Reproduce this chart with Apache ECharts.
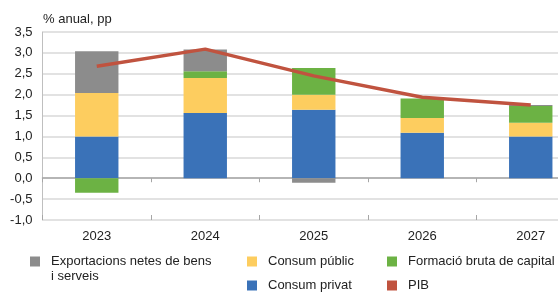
<!DOCTYPE html>
<html>
<head>
<meta charset="utf-8">
<script src="https://cdn.jsdelivr.net/npm/echarts@6/dist/echarts.min.js"></script>
<style>
html, body { margin: 0; padding: 0; background: #fff; }
#chart { width: 558px; height: 293px; }
</style>
</head>
<body>
<div id="chart"></div>
<script>
// dades del gràfic
var anys = ['2023', '2024', '2025', '2026', '2027'];
var consumPrivat = [1.0, 1.56, 1.64, 1.09, 1.0];
var consumPublic = [1.04, 0.84, 0.36, 0.35, 0.33];
var formacioCapital = [-0.35, 0.16, 0.64, 0.47, 0.40];
var exportacionsNetes = [1.0, 0.52, -0.11, 0.0, 0.02];
var pib = [2.68, 3.09, 2.45, 1.94, 1.75];
var ticksY = [-1.0, 3.5, 0.5];

var FONT = '"Liberation Sans", Arial, sans-serif';
var NOM_EXP = 'Exportacions netes de bens i serveis';
var chart = echarts.init(document.getElementById('chart'));

function barra(nom, dades, color) {
	return {
		name: nom,
		type: 'bar',
		stack: 'total',
		barWidth: '40%',
		data: dades,
		itemStyle: { color: color },
		emphasis: { disabled: true }
	};
}
// una llegenda per element, posicionada a mà
function llegenda(nom, x, y) {
	return {
		left: x, top: y, padding: 0, itemWidth: 10, itemHeight: 10, icon: 'rect',
		textStyle: { fontSize: 13, color: '#222', fontFamily: FONT, padding: [0, 0, 0, 6] },
		formatter: function (n) { return n === NOM_EXP ? 'Exportacions netes de bens' : n; },
		data: [nom]
	};
}

var option = {
	animation: false,
	textStyle: { fontFamily: FONT },
	grid: { left: 42.5, top: 32, width: 542.5, bottom: 73, outerBoundsMode: 'none' },
	graphic: [{
		type: 'text', left: 43, top: 13,
		style: { text: '% anual, pp', font: '13px ' + FONT, fill: '#222' }
	}, {
		type: 'text', left: 51, top: 270,
		style: { text: 'i serveis', font: '13px ' + FONT, fill: '#222' }
	}],
	legend: [
		llegenda(NOM_EXP, 30, 255),
		llegenda('Consum públic', 247, 255),
		llegenda('Consum privat', 247, 279),
		llegenda('Formació bruta de capital', 387, 255),
		llegenda('PIB', 387, 279)
	],
	xAxis: [{
		type: 'category',
		data: anys,
		position: 'bottom',
		axisLine: { show: false, onZero: false },
		axisTick: { show: false },
		axisLabel: { fontSize: 13, color: '#222', margin: 10 }
	}, {
		type: 'category',
		data: anys,
		position: 'bottom',
		axisLine: { onZero: true, lineStyle: { color: '#a6a6a6', width: 1.5 } },
		axisTick: { show: true, length: 4, lineStyle: { color: '#a6a6a6' } },
		axisLabel: { show: false }
	}, {
		type: 'category',
		data: anys,
		position: 'bottom',
		axisLine: { show: false, onZero: true },
		axisTick: { show: true, inside: true, length: 5, lineStyle: { color: '#a6a6a6' } },
		axisLabel: { show: false }
	}],
	yAxis: {
		type: 'value',
		min: ticksY[0],
		max: ticksY[1],
		interval: ticksY[2],
		axisLine: { show: true, lineStyle: { color: '#bfbfbf' } },
		axisTick: { show: false },
		splitLine: { lineStyle: { color: '#d9d9d9', width: 1.5 } },
		axisLabel: {
			fontSize: 13, color: '#222', margin: 10,
			formatter: function (v) { return v.toFixed(1).replace('.', ','); }
		}
	},
	series: [
		barra('Consum privat', consumPrivat, '#3a72b8'),
		barra('Consum públic', consumPublic, '#fdcd5f'),
		barra('Formació bruta de capital', formacioCapital, '#6cb244'),
		barra(NOM_EXP, exportacionsNetes, '#8c8c8c'),
		{
			name: 'PIB',
			type: 'line',
			data: pib,
			symbol: 'none',
			lineStyle: { color: '#c0533f', width: 3.5 },
			itemStyle: { color: '#c0533f' },
			z: 5
		}
	]
};
chart.setOption(option);
</script>
</body>
</html>
